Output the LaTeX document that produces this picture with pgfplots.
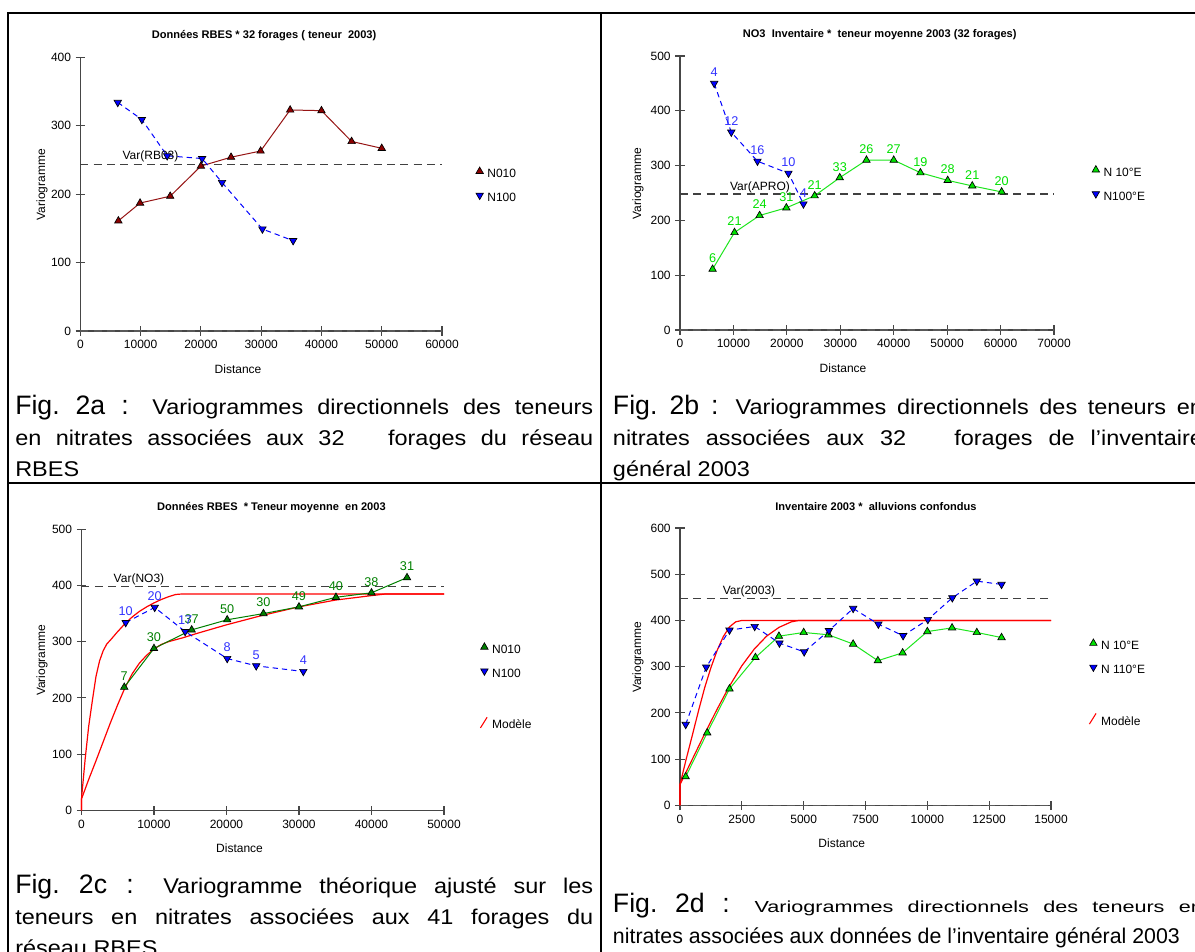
\documentclass[border=0pt]{standalone}
\usepackage{fontspec}
\setmainfont{Liberation Sans}
\newfontfamily\capfam[FakeStretch=1.1]{Liberation Sans}
\newfontfamily\capsmfam[FakeStretch=1.35]{Liberation Sans}
\usepackage{pgfplots}
\pgfplotsset{compat=1.18}
\definecolor{dred}{RGB}{139,0,0}
\definecolor{lred}{RGB}{150,20,20}
\definecolor{lgreen}{RGB}{0,225,0}
\definecolor{lgreenline}{RGB}{30,230,30}
\definecolor{dgreen}{RGB}{0,128,0}
\definecolor{mblue}{RGB}{0,0,255}
\definecolor{lblue}{RGB}{50,50,255}
\definecolor{axgray}{RGB}{70,70,70}
\newcommand\figf{\rmfamily\fontsize{20}{24}\selectfont}
\newcommand\capf{\capfam\fontsize{16}{18}\selectfont}
\newcommand\capsm{\capsmfam\fontsize{12}{14}\selectfont}
\pgfplotsset{
  vario/.style={
    scale only axis,
    anchor=south west,
    axis lines*=left,
    axis line style={-, axgray, line width=0.8pt},
    tick style={axgray, line width=0.8pt},
    tick align=center,
    major tick length=7pt,
    xmin=0, ymin=0,
    clip=false,
    scaled x ticks=false, scaled y ticks=false,
    /pgf/number format/.cd, 1000 sep={}, assume math mode=true, /pgfplots/.cd,
    tick label style={font=\fontsize{9}{10}\selectfont, black},
    label style={font=\fontsize{9}{10}\selectfont},
    xlabel={Distance}, ylabel={Variogramme},
    xlabel style={at={(axis description cs:0.436,0)}, anchor=center, yshift=-28.5pt},
    title style={font=\bfseries\fontsize{8.3}{10}\selectfont, anchor=center, yshift=10.25pt},
    legend style={draw=none, fill=none, inner sep=0pt, outer sep=0pt, anchor=north west,
      font=\fontsize{9}{10}\selectfont, row sep=9.5pt, column sep=3pt,
      nodes={inner sep=0pt, text height=6.5pt, text depth=2pt}},
    legend cell align=left,
  },
  markleg/.style={legend image code/.code={\draw[##1] plot coordinates {(3pt,2.5pt)};}},
  modleg/.style={legend image code/.code={\draw[##1] (0pt,-1.5pt) -- (5pt,6.5pt);}},
  varline/.style={black!75, dash pattern=on 6pt off 4pt, line width=0.8pt},
  zeroline/.style={black!65, dash pattern=on 6pt off 4pt, line width=1pt},
  upm/.style={mark=triangle*, mark size=3.2pt, mark options={solid, fill=#1, draw=black, line width=0.5pt}},
  dnm/.style={mark=triangle*, mark size=3.2pt, mark options={solid, rotate=180, fill=#1, draw=black, line width=0.5pt}},
  bluedash/.style={mblue, dash pattern=on 4pt off 3pt, line width=0.75pt, dnm=mblue},
  lab/.style={nodes near coords, point meta=explicit symbolic,
    nodes near coords style={font=\fontsize{9.5}{10}\selectfont, text=#1, anchor=center, yshift=8.25pt, inner sep=0pt}},
  model/.style={red, line width=0.9pt},
}
\begin{document}
\begin{tikzpicture}
\useasboundingbox (0,0) rectangle (896.25pt,-713.25pt);
\clip (0,0) rectangle (896.25pt,-713.25pt);
\fill[white] (0,0) rectangle (896.25pt,-713.25pt);

% ---------------- Panel a
\begin{axis}[vario, at={(60.3pt,-248.25pt)}, width=271.2pt, height=205.3pt,
  xmax=60000, ymax=400, xtick={0,10000,...,60000}, ytick={0,100,...,400},
  title={Données RBES * 32 forages ( teneur~~2003)},
  title style={at={(axis description cs:0.508,1)}},
  ylabel style={at={(axis description cs:-0.106,0.534)}, anchor=center},
  legend style={at={(1.094,0.599)}}]
\addplot[forget plot, varline] coordinates {(0,243.8) (60000,243.8)};
\addplot[forget plot, zeroline] coordinates {(0,0) (60000,0)};
\addplot[lred, line width=0.75pt, upm=dred, markleg] coordinates {
 (6300,161) (9900,187) (14900,197) (20000,241) (25000,254) (29900,263)
 (34800,323) (40000,322) (45000,277) (50000,267)};
\addlegendentry{N010}
\addplot[bluedash, markleg] coordinates {
 (6200,334) (10200,309) (14400,256) (20200,252) (23500,217) (30200,149) (35300,132)};
\addlegendentry{N100}
\node[font=\fontsize{9}{10}\selectfont] at (axis cs:11630,255.5) {Var(RB03)};
\end{axis}

% ---------------- Panel b
\begin{axis}[vario, at={(510pt,-247.5pt)}, width=280.5pt, height=205.5pt,
  xmax=70000, ymax=500, xtick={0,10000,...,70000}, ytick={0,100,...,500},
  title={NO3~~Inventaire *~~teneur moyenne 2003 (32 forages)},
  title style={at={(axis description cs:0.534,1)}},
  ylabel style={at={(axis description cs:-0.112,0.534)}, anchor=center},
  legend style={at={(1.102,0.600)}}]
\addplot[forget plot, varline] coordinates {(0,248.2) (70000,248.2)};
\addplot[forget plot, zeroline] coordinates {(0,0) (70000,0)};
\addplot[lgreenline, line width=0.75pt, upm=lgreen, markleg, lab=lgreen] table[row sep=\\, meta=l] {
 x y l\\ 6100 111 6\\ 10200 178 21\\ 14900 209 24\\ 19900 223 31\\ 25200 245 21\\ 29900 278 33\\
 34900 310 26\\ 40000 310 27\\ 45000 287 19\\ 50100 273 28\\ 54700 263 21\\ 60200 252 20\\};
\addlegendentry{N 10°E}
\addplot[bluedash, markleg, lab=lblue] table[row sep=\\, meta=l] {
 x y l\\ 6400 450 4\\ 9600 361 12\\ 14500 308 16\\ 20300 286 10\\ 23100 230 4\\};
\addlegendentry{N100°E}
\node[font=\fontsize{9}{10}\selectfont] at (axis cs:14970,261) {Var(APRO)};
\end{axis}

% ---------------- Panel c
\begin{axis}[vario, at={(61.1pt,-607.7pt)}, width=271.9pt, height=210.75pt,
  xmax=50000, ymax=500, xtick={0,10000,...,50000}, ytick={0,100,...,500},
  title={Données RBES~~* Teneur moyenne~~en 2003},
  title style={at={(axis description cs:0.524,1)}},
  ylabel style={at={(axis description cs:-0.109,0.534)}, anchor=center},
  legend style={at={(1.099,0.596)}}]
\addplot[forget plot, varline] coordinates {(0,398) (50000,398)};
\addplot[forget plot, model] coordinates {
 (0,0) (0,20) (500,90) (1000,150) (1500,195) (2000,238) (2500,266) (3000,284) (3500,296)
 (4000,303) (5000,318) (6000,332) (7000,344) (8000,354) (9000,362) (10000,369)
 (11000,375) (12000,380) (13000,384) (14000,385) (50000,385)};
\addplot[forget plot, model] coordinates {
 (0,0) (0,20) (1000,55) (2000,88) (3000,122) (4000,156) (5000,188) (6000,218) (7000,243)
 (8000,262) (9000,276) (10000,287) (11000,295) (12000,300) (14000,307) (16000,315)
 (20000,330) (25000,347) (30000,362) (35000,374) (40000,382) (42000,385) (50000,385)};
\addplot[dgreen, line width=0.75pt, upm=dgreen, markleg, lab=dgreen] table[row sep=\\, meta=l] {
 x y l\\ 5900 219 7\\ 10000 288 30\\ 15200 321 37\\ 20100 339 50\\ 25100 350 30\\
 30000 362 49\\ 35100 379 40\\ 40000 387 38\\ 44900 414 31\\};
\addlegendentry{N010}
\addplot[bluedash, markleg, lab=lblue] table[row sep=\\, meta=l] {
 x y l\\ 6100 334 10\\ 10100 361 20\\ 14300 318 17\\ 20100 270 8\\ 24100 257 5\\ 30600 247 4\\};
\addlegendentry{N100}
\addlegendimage{empty legend}\addlegendentry{}
\addlegendimage{red, line width=0.8pt, modleg}\addlegendentry{Modèle}
\node[font=\fontsize{9}{10}\selectfont] at (axis cs:7931,411.6) {Var(NO3)};
\end{axis}

% ---------------- Panel d
\begin{axis}[vario, at={(510pt,-604pt)}, width=278.25pt, height=208pt,
  xmax=15000, ymax=600, xtick={0,2500,...,15000}, ytick={0,100,...,600},
  title={Inventaire 2003 *~~alluvions confondus},
  title style={at={(axis description cs:0.528,1)}},
  ylabel style={at={(axis description cs:-0.113,0.534)}, anchor=center},
  legend style={at={(1.102,0.600)}}]
\addplot[forget plot, varline] coordinates {(0,447.8) (15000,447.8)};
\addplot[forget plot, zeroline] coordinates {(0,0) (15000,0)};
\addplot[forget plot, model] coordinates {
 (0,0) (0,45) (250,100) (500,152) (750,205) (1000,255) (1250,298) (1500,335) (1750,365)
 (2000,386) (2250,397) (2500,400) (15000,400)};
\addplot[forget plot, model] coordinates {
 (0,0) (0,45) (500,100) (1000,155) (1500,208) (2000,258) (2500,302) (3000,338) (3500,366)
 (4000,385) (4500,397) (4800,400) (15000,400)};
\addplot[lgreenline, line width=0.75pt, upm=lgreen, markleg] coordinates {
 (230,62) (1100,157) (2000,252) (3050,320) (4000,366) (5000,374) (6000,369) (7000,349)
 (8000,313) (9000,330) (10000,376) (11000,384) (12000,374) (13000,363)};
\addlegendentry{N 10°E}
\addplot[bluedash, markleg] coordinates {
 (230,175) (1060,299) (2000,379) (3020,387) (4020,351) (5020,332) (6020,378) (7000,426)
 (8020,392) (9020,367) (10020,402) (11010,449) (12000,485) (13000,478)};
\addlegendentry{N 110°E}
\addlegendimage{empty legend}\addlegendentry{}
\addlegendimage{red, line width=0.8pt, modleg}\addlegendentry{Modèle}
\node[font=\fontsize{9}{10}\selectfont] at (axis cs:2790,462) {Var(2003)};
\end{axis}

% ---------------- frame and captions (pixel units)
\begin{scope}[x=0.75pt, y=-0.75pt]
\draw[line width=1.5pt] (7.7,13) -- (1200,13);
\draw[line width=1.5pt] (7.7,12.3) -- (7.7,960);
\draw[line width=1.5pt] (601,13) -- (601,960);
\draw[line width=1.5pt] (7.7,483) -- (1200,483);

\node[anchor=base west, inner sep=0pt] at (15,414) {\capf\makebox[433.5pt][s]{{\figf Fig.\ 2a :} Variogrammes directionnels des teneurs}};
\node[anchor=base west, inner sep=0pt] at (15,445) {\capf\makebox[433.5pt][s]{en nitrates associées aux 32\ \ \ forages du réseau}};
\node[anchor=base west, inner sep=0pt] at (15,476) {\capf RBES};

\node[anchor=base west, inner sep=0pt] at (612.7,414) {\capf\makebox[442.5pt][s]{{\figf Fig.\ 2b :} Variogrammes directionnels des teneurs en}};
\node[anchor=base west, inner sep=0pt] at (612.7,445) {\capf\makebox[442.5pt][s]{nitrates associées aux 32\ \ \ forages de l’inventaire}};
\node[anchor=base west, inner sep=0pt] at (612.7,476) {\capf général 2003};

\node[anchor=base west, inner sep=0pt] at (15,893) {\capf\makebox[433.5pt][s]{{\figf Fig.\ 2c :} Variogramme théorique ajusté sur les}};
\node[anchor=base west, inner sep=0pt] at (15,924) {\capf\makebox[433.5pt][s]{teneurs en nitrates associées aux 41 forages du}};
\node[anchor=base west, inner sep=0pt] at (15,955) {\capf réseau RBES};

\node[anchor=base west, inner sep=0pt] at (612.7,912) {\capsm\makebox[442.5pt][s]{{\figf Fig.\ 2d :} Variogrammes directionnels des teneurs en}};
\node[anchor=base west, inner sep=0pt] at (612.7,943) {\rmfamily\fontsize{16}{18}\selectfont nitrates associées aux données de l’inventaire général 2003};
\end{scope}
\end{tikzpicture}
\end{document}
